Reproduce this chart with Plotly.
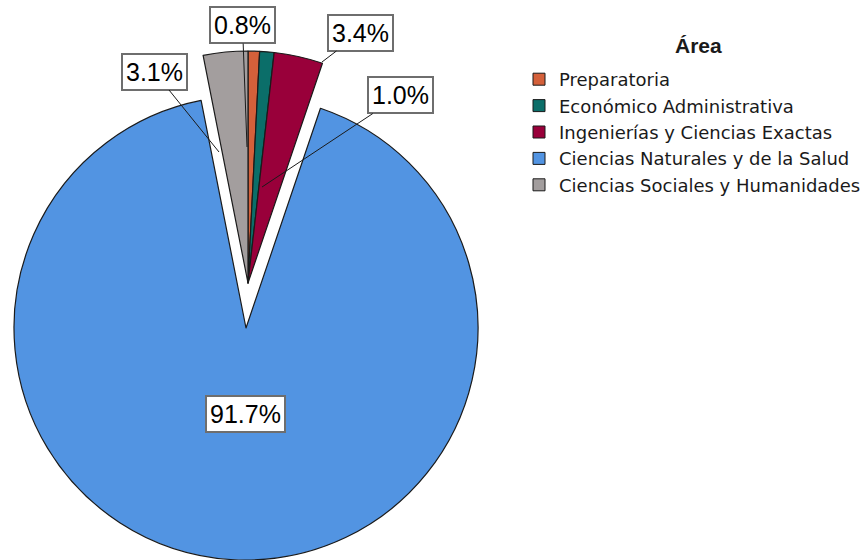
import plotly.graph_objects as go

# ---------------- data ----------------
labels = ["Preparatoria", "Económico Administrativa", "Ingenierías y Ciencias Exactas",
          "Ciencias Naturales y de la Salud", "Ciencias Sociales y Humanidades"]
percent = [0.8, 1.0, 3.4, 91.7, 3.1]
colors = ["#D4603A", "#0B6E69", "#99003A", "#5294E2", "#A39E9E"]
legend_title = "Área"

# ---------------- layout helpers ----------------
W, H = 868, 560
def px(x):
    return x / W
def py(y):
    return 1 - y / H

R = 232
big_idx = 3  # the large slice drawn separately (exploded away from the rest)

def domain(cx, cy, r):
    return dict(x=[px(cx - r), px(cx + r)], y=[py(cy + r), py(cy - r)])

TRANSP = "rgba(0,0,0,0)"
fill_big = [c if i == big_idx else TRANSP for i, c in enumerate(colors)]
line_big = ["#1a1a1a" if i == big_idx else TRANSP for i in range(len(colors))]
fill_small = [TRANSP if i == big_idx else c for i, c in enumerate(colors)]
line_small = [TRANSP if i == big_idx else "#1a1a1a" for i in range(len(colors))]

common = dict(labels=labels, values=percent, sort=False, direction="clockwise",
              rotation=0, textinfo="none", hoverinfo="label+percent")

fig = go.Figure()
# legend-only trace (tiny, hidden behind the big slice)
fig.add_trace(go.Pie(**common, marker=dict(colors=colors, line=dict(color="#1a1a1a", width=1)),
                     domain=domain(246, 470, 1), showlegend=True))
# big slice
fig.add_trace(go.Pie(**common, marker=dict(colors=fill_big, line=dict(color=line_big, width=1.2)),
                     domain=domain(246, 328, R), showlegend=False))
# small slices group
fig.add_trace(go.Pie(**common, marker=dict(colors=fill_small, line=dict(color=line_small, width=1.2)),
                     domain=domain(248, 283, R), showlegend=False))

# label boxes: (tip x, tip y, box center x, box center y) in pixels
label_pos = [
    (247, 147, 242.5, 25.5),
    (262, 187, 400, 95.5),
    (322, 62, 360, 33),
    (None, None, 245.5, 414),
    (219, 152, 154.5, 72),
]
annotations = []
for v, (tx, ty, bx, by) in zip(percent, label_pos):
    base = dict(text=f"{v:.1f}%", font=dict(family="Liberation Sans, Arial", size=25, color="black"),
                bgcolor="white", bordercolor="#6e6e6e", borderwidth=2, borderpad=3,
                xref="paper", yref="paper")
    if tx is None:
        annotations.append(dict(**base, x=px(bx), y=py(by), xanchor="center", yanchor="middle",
                                showarrow=False))
    else:
        annotations.append(dict(**base, x=px(tx), y=py(ty), showarrow=True, arrowhead=0,
                                arrowwidth=1, arrowcolor="#1a1a1a", axref="pixel", ayref="pixel",
                                ax=bx - tx, ay=by - ty, standoff=0))

# legend title as text
annotations.append(dict(text=f"<b>{legend_title}</b>", x=px(698), y=py(45), xref="paper", yref="paper",
                        xanchor="center", yanchor="middle", showarrow=False,
                        font=dict(family="Liberation Sans, Arial", size=21, color="#1a1a1a")))

fig.update_layout(
    width=W, height=H, autosize=False,
    margin=dict(l=0, r=0, t=0, b=0),
    paper_bgcolor="white", plot_bgcolor="white",
    annotations=annotations,
    legend=dict(
        x=px(519), y=py(61), xanchor="left", yanchor="top",
        itemwidth=30, bgcolor="rgba(0,0,0,0)",
        font=dict(family="DejaVu Sans", size=18, color="#1a1a1a"),
        traceorder="normal",
    ),
)

fig.write_html("out.html", config={"displayModeBar": False},
               post_script="document.body.style.margin='0';")
